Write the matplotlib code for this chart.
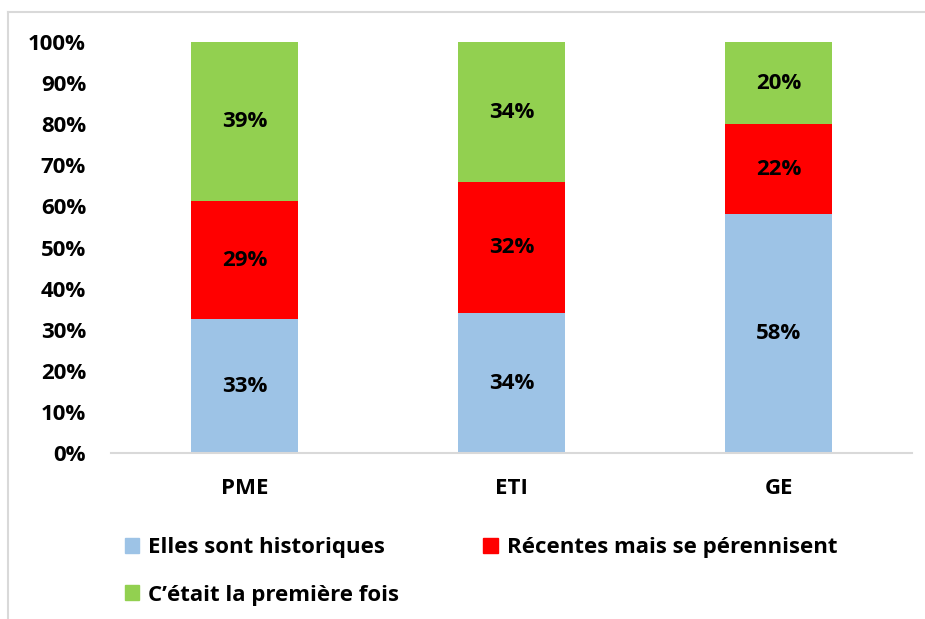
import matplotlib
matplotlib.use("Agg")
import matplotlib.pyplot as plt
from matplotlib.lines import Line2D
from matplotlib.patches import Patch

categories = ["PME", "ETI", "GE"]
historiques = [32.6, 34.1, 58.2]
recentes = [28.7, 31.8, 21.8]
premiere = [38.7, 34.1, 20.0]
series_names = ["Elles sont historiques", "Récentes mais se pérennisent",
                "C\u2019était la première fois"]
colors = ["#9DC3E6", "#FF0000", "#92D050"]
yticks = [0, 10, 20, 30, 40, 50, 60, 70, 80, 90, 100]

plt.rcParams["font.family"] = ["Open Sans", "DejaVu Sans"]
plt.rcParams["font.weight"] = "bold"
fs = 16

fig = plt.figure(figsize=(9.25, 6.19), dpi=100)
ax = fig.add_axes([0.12, 0.268, 0.866, 0.664])

x = range(len(categories))
bottom = [0, 0, 0]
for vals, col in zip([historiques, recentes, premiere], colors):
    ax.bar(x, vals, width=0.4, bottom=bottom, color=col)
    for i, v in enumerate(vals):
        ax.text(i, bottom[i] + v / 2, "%d%%" % round(v), ha="center", va="center",
                fontsize=fs, fontweight="bold", color="black")
    bottom = [b + v for b, v in zip(bottom, vals)]

ax.set_xlim(-0.5, 2.5)
ax.set_ylim(0, 100)
ax.set_yticks(yticks)
ax.set_yticklabels(["%d%%" % t for t in yticks], fontsize=fs, fontweight="bold")
ax.set_xticks(list(x))
ax.set_xticklabels(categories, fontsize=fs, fontweight="bold")
ax.tick_params(axis="y", length=0, pad=18)
ax.tick_params(axis="x", length=0, pad=18)
for s in ["top", "right", "left"]:
    ax.spines[s].set_visible(False)
ax.spines["bottom"].set_color("#d9d9d9")
ax.spines["bottom"].set_linewidth(1.5)

handles = [Patch(color=colors[0]), Patch(color=colors[2]), Patch(color=colors[1])]
labels = [series_names[0], series_names[2], series_names[1]]
fig.legend(handles, labels, ncol=2, loc="upper left", bbox_to_anchor=(0.125, 0.147),
           frameon=False, fontsize=fs, handlelength=0.65, handleheight=0.65,
           handletextpad=0.4, columnspacing=3.8, labelspacing=1.2, borderaxespad=0)

# light frame around chart area (cropped on right and bottom)
fig.add_artist(Line2D([8 / 925, 1], [1 - 12 / 619, 1 - 12 / 619], color="#d9d9d9", lw=1.5))
fig.add_artist(Line2D([8 / 925, 8 / 925], [0, 1 - 12 / 619], color="#d9d9d9", lw=1.5))

fig.savefig("out.png", dpi=100)
